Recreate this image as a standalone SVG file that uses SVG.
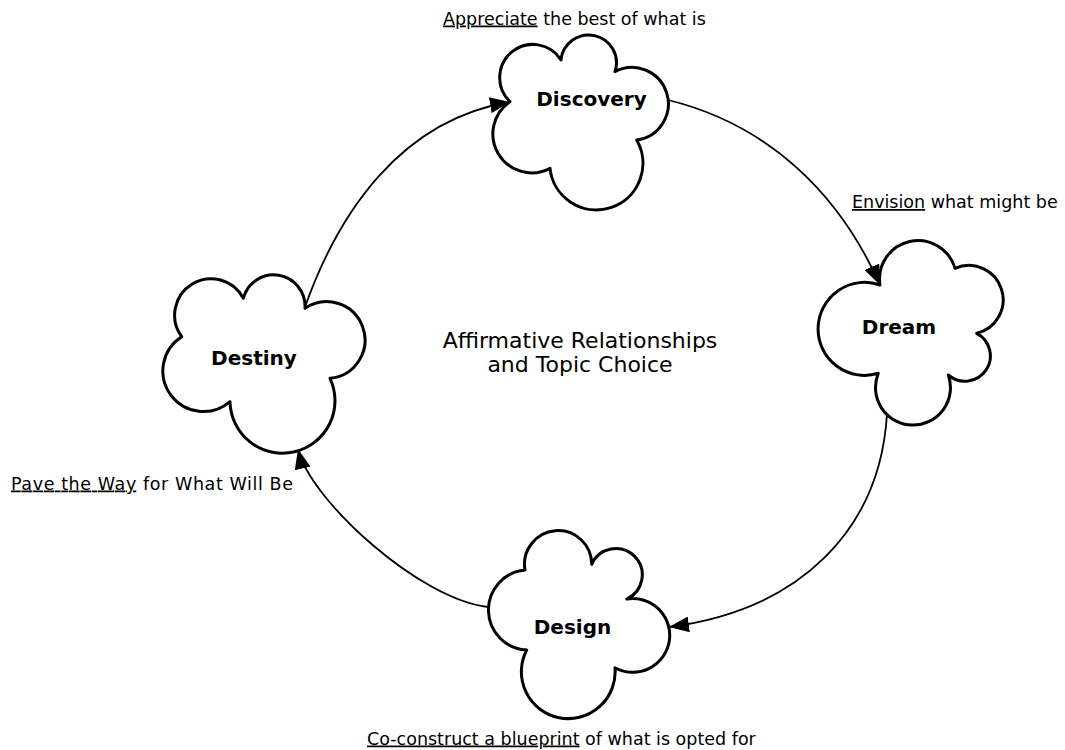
<svg xmlns="http://www.w3.org/2000/svg" width="1065" height="750" viewBox="0 0 1065 750">
<style>
.cloud{fill:#fff;stroke:#000;stroke-width:3;stroke-linejoin:round}
.node{font-family:"DejaVu Sans",sans-serif;font-weight:bold;font-size:20px;text-anchor:middle;fill:#000}
.lbl{font-family:"DejaVu Sans",sans-serif;font-size:17.5px;fill:#000}
.ctr{font-family:"DejaVu Sans",sans-serif;font-size:22px;text-anchor:middle;fill:#000}
.edge{fill:none;stroke:#000;stroke-width:1.8;marker-end:url(#ah)}
.u{text-decoration:underline}
</style>
<defs>
<marker id="ah" markerUnits="userSpaceOnUse" markerWidth="20" markerHeight="16" refX="20" refY="8" orient="auto">
<path d="M0,0 L20,8 L0,16 Z" fill="#000"/>
</marker>
</defs>
<rect width="1065" height="750" fill="#fff"/>
<g id="connectors">
<path class="edge" d="M305,307 C338,214 400,120 510,102"/>
<path class="edge" d="M668,100 C770,125 840,195 880,285"/>
<path class="edge" d="M887,414 C880,530 800,610 669,627"/>
<path class="edge" d="M488.5,607 C420,600 310,500 298,449"/>
</g>
<g id="node-discovery">
<path class="cloud" d="M510,101.7 A33.2,33.2 0 1 1 561,60 A27.8,27.8 0 1 1 615,71.7 A36.4,36.4 0 1 1 636.7,140 A46.6,46.6 0 1 1 550,168.3 A38.9,38.9 0 0 1 510,101.7 Z"/>
<text class="node" x="591.5" y="105.5">Discovery</text>
</g>
<g id="node-dream">
<path class="cloud" d="M880,285 A38.5,38.5 0 0 1 955,268.3 A34.4,34.4 0 1 1 976.7,333.3 A25.4,25.4 0 1 1 948.3,375 A37.5,37.5 0 1 1 878.3,373.3 A46.5,46.5 0 1 1 880,285 Z"/>
<text class="node" x="899" y="334">Dream</text>
</g>
<g id="node-design">
<path class="cloud" d="M525,570 A33.6,33.6 0 1 1 591.7,564.3 A26.4,26.4 0 1 1 626.7,599 A36.9,36.9 0 1 1 615,667.7 A46.9,46.9 0 1 1 526.7,650 A40.1,40.1 0 0 1 525,570 Z"/>
<text class="node" x="572.5" y="634">Design</text>
</g>
<g id="node-destiny">
<path class="cloud" d="M243.3,298.3 A31.4,31.4 0 0 1 305,308.3 A38.4,38.4 0 1 1 330,378.3 A52.5,52.5 0 1 1 230,401.7 A40.6,40.6 0 1 1 181.7,336.7 A36.4,36.4 0 1 1 243.3,298.3 Z"/>
<text class="node" x="254" y="365">Destiny</text>
</g>
<g id="labels">
<text class="lbl" x="443" y="24.5"><tspan class="u">Appreciate</tspan> the best of what is</text>
<text class="lbl" x="852" y="208"><tspan class="u">Envision</tspan> what might be</text>
<text class="lbl" x="11" y="489.5" textLength="282" lengthAdjust="spacing"><tspan class="u">Pave the Way</tspan> for What Will Be</text>
<text class="lbl" x="367" y="744.5"><tspan class="u">Co-construct a blueprint</tspan> of what is opted for</text>
<text class="ctr" x="580" y="348">Affirmative Relationships</text>
<text class="ctr" x="580" y="372">and Topic Choice</text>
</g>
</svg>
